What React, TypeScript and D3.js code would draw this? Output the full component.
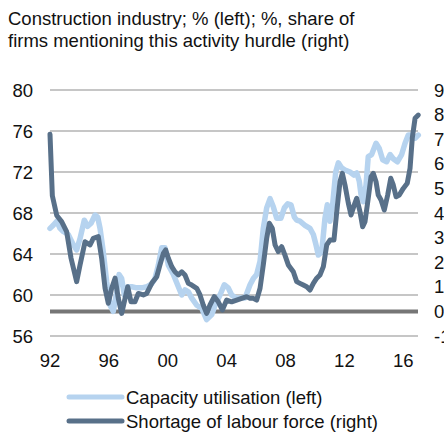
import { useMemo } from 'react';
import * as d3 from 'd3';

// capacity utilisation, construction (left axis, %)
const capYears = [
  1992.0, 1992.22, 1992.46, 1992.68, 1992.9, 1993.24, 1993.58, 1993.81, 1994.04, 1994.33,
  1994.56, 1994.79, 1995.06, 1995.24, 1995.4, 1995.62, 1995.85, 1996.08, 1996.3, 1996.53,
  1996.69, 1996.87, 1997.05, 1997.28, 1997.55, 1997.89, 1998.23, 1998.57, 1998.91, 1999.13,
  1999.36, 1999.59, 1999.81, 2000.04, 2000.38, 2000.72, 2000.95, 2001.17, 2001.4, 2001.63,
  2001.97, 2002.31, 2002.64, 2002.99, 2003.21, 2003.55, 2003.84, 2004.11, 2004.34, 2004.62,
  2004.91, 2005.25, 2005.59, 2005.81, 2006.04, 2006.27, 2006.49, 2006.72, 2006.95, 2007.17,
  2007.4, 2007.69, 2007.92, 2008.15, 2008.37, 2008.6, 2008.76, 2008.98, 2009.32, 2009.66,
  2009.89, 2010.07, 2010.23, 2010.46, 2010.68, 2010.84, 2011.02, 2011.2, 2011.41, 2011.59,
  2011.82, 2012.04, 2012.38, 2012.65, 2012.84, 2013.01, 2013.13, 2013.28, 2013.47, 2013.62,
  2013.85, 2014.15, 2014.37, 2014.6, 2014.87, 2015.1, 2015.32, 2015.6, 2015.89, 2016.12,
  2016.34, 2016.57, 2016.8, 2017.02,
];
const capValues = [
  66.5, 66.8, 67.2, 66.5, 66.2, 65.9, 64.9, 64.4, 65.5, 67.3,
  66.7, 67.0, 67.8, 67.6, 66.5, 64.2, 61.3, 59.0, 58.4, 60.3,
  62.0, 61.6, 60.0, 60.8, 60.8, 60.7, 60.7, 60.8, 61.1, 61.6,
  62.9, 64.6, 64.6, 62.9, 62.0, 60.8, 60.0, 60.5, 60.3, 59.7,
  59.0, 58.7, 57.6, 58.1, 59.0, 60.0, 61.0, 60.7, 60.0, 59.7,
  59.7, 59.7, 61.0, 61.6, 62.0, 63.3, 66.5, 68.5, 69.4, 68.6,
  67.5, 67.5, 68.5, 68.9, 68.8, 67.6, 67.3, 67.2, 66.8, 66.5,
  65.9, 64.9, 63.9, 64.2, 67.5, 68.8, 67.2, 68.8, 72.0, 72.9,
  72.4, 72.2, 72.0, 71.7, 71.9, 71.1, 69.8, 69.1, 70.7, 73.5,
  73.7, 74.8, 74.3, 73.2, 73.0, 73.7, 73.3, 73.0, 73.7, 74.8,
  75.6, 75.6, 75.3, 75.6,
];

// shortage of labour force, share of firms (right axis, %)
const labYears = [
  1992.0, 1992.16, 1992.46, 1992.79, 1993.13, 1993.43, 1993.81, 1994.04, 1994.38, 1994.72,
  1994.94, 1995.28, 1995.51, 1995.74, 1995.96, 1996.19, 1996.42, 1996.64, 1996.87, 1997.1,
  1997.28, 1997.5, 1997.77, 1998.0, 1998.34, 1998.57, 1998.91, 1999.25, 1999.47, 1999.7,
  1999.86, 2000.04, 2000.27, 2000.49, 2000.72, 2000.95, 2001.17, 2001.4, 2001.63, 2001.97,
  2002.19, 2002.41, 2002.64, 2002.87, 2003.16, 2003.43, 2003.71, 2004.0, 2004.34, 2004.68,
  2005.02, 2005.36, 2005.59, 2005.81, 2006.04, 2006.27, 2006.49, 2006.72, 2006.9, 2007.1,
  2007.29, 2007.51, 2007.74, 2007.96, 2008.19, 2008.53, 2008.76, 2008.98, 2009.21, 2009.44,
  2009.66, 2009.89, 2010.12, 2010.34, 2010.57, 2010.8, 2011.02, 2011.29, 2011.48, 2011.7,
  2011.86, 2012.04, 2012.27, 2012.45, 2012.67, 2012.84, 2013.06, 2013.24, 2013.4, 2013.62,
  2013.81, 2013.96, 2014.15, 2014.3, 2014.49, 2014.71, 2014.94, 2015.15, 2015.32, 2015.51,
  2015.73, 2016.0, 2016.27, 2016.46, 2016.61, 2016.8, 2017.02,
];
const labValues = [
  7.2, 4.7, 3.9, 3.65, 3.24, 2.16, 1.21, 1.89, 2.83, 2.7,
  2.97, 3.04, 2.16, 0.94, 0.33, 0.94, 1.35, 0.53, -0.08, 0.53,
  1.0, 0.39, 0.39, 0.73, 0.67, 0.73, 1.14, 1.41, 1.89, 2.36,
  2.5, 2.16, 1.82, 1.61, 1.48, 1.61, 1.48, 1.14, 1.07, 0.94,
  0.67, 0.26, -0.08, 0.26, 0.6, 0.39, 0.06, 0.46, 0.39, 0.46,
  0.53, 0.6, 0.53, 0.53, 0.46, 0.94, 1.89, 2.97, 3.58, 3.38,
  2.7, 2.43, 2.63, 2.29, 1.89, 1.61, 1.21, 1.14, 1.07, 1.0,
  0.87, 1.14, 1.35, 1.48, 1.82, 2.7, 2.9, 2.9, 4.05, 5.27,
  5.61, 5.14, 4.39, 3.92, 4.33, 4.6, 4.05, 3.44, 3.65, 4.6,
  5.48, 5.61, 5.27, 4.73, 4.53, 4.12, 4.73, 5.41, 5.14, 4.66,
  4.73, 5.0, 5.21, 5.82, 7.04, 7.85, 7.98,
];

const leftTicks = [80, 76, 72, 68, 64, 60, 56];
const rightTicks = [9, 8, 7, 6, 5, 4, 3, 2, 1, 0, -1];
const yearTicks = [1992, 1996, 2000, 2004, 2008, 2012, 2016];
const titleLines = [
  'Construction industry; % (left); %, share of',
  'firms mentioning this activity hurdle (right)',
];
const legendItems = [
  { label: 'Capacity utilisation (left)', color: '#b6d3ef' },
  { label: 'Shortage of labour force (right)', color: '#587089' },
];

const W = 444;
const H = 432;
const PLOT = { left: 50, right: 418, top: 90, bottom: 336 };
const FONT = 'Liberation Sans, Arial, sans-serif';
const FS = 18.5;

type Pt = { t: number; v: number };

export default function App() {
  const x = useMemo(() => d3.scaleLinear().domain([1992, 2017]).range([PLOT.left, PLOT.right]), []);
  const yL = useMemo(() => d3.scaleLinear().domain([56, 80]).range([PLOT.bottom, PLOT.top]), []);
  const yR = useMemo(() => d3.scaleLinear().domain([-1, 9]).range([PLOT.bottom, PLOT.top]), []);

  const cap: Pt[] = capYears.map((t, i) => ({ t, v: capValues[i] }));
  const lab: Pt[] = labYears.map((t, i) => ({ t, v: labValues[i] }));

  const capPath = d3.line<Pt>().x((d) => x(d.t)).y((d) => yL(d.v))(cap) || '';
  const labPath = d3.line<Pt>().x((d) => x(d.t)).y((d) => yR(d.v))(lab) || '';

  return (
    <svg width={W} height={H} style={{ position: 'absolute', left: 0, top: 0 }} fontFamily={FONT}>
      <rect width={W} height={H} fill="#fff" />
      {titleLines.map((t, i) => (
        <text key={t} x={8} y={25 + i * 22} fontSize={FS} fill="#111">{t}</text>
      ))}

      {leftTicks.map((v) => (
        <g key={v}>
          <line x1={PLOT.left} x2={PLOT.right} y1={yL(v)} y2={yL(v)} stroke="#b3b3b3" strokeWidth={1.5} />
          <text x={33} y={yL(v) + 6.5} textAnchor="end" fontSize={FS} fill="#111">{v}</text>
        </g>
      ))}
      {rightTicks.map((v) => (
        <text key={v} x={434} y={yR(v) + 6.5} fontSize={FS} fill="#111">{v}</text>
      ))}
      <line x1={PLOT.left} x2={PLOT.right} y1={yR(0)} y2={yR(0)} stroke="#767676" strokeWidth={4} />

      {yearTicks.map((yr) => (
        <text key={yr} x={x(yr)} y={367} textAnchor="middle" fontSize={FS} fill="#111">
          {String(yr).slice(2)}
        </text>
      ))}

      <path d={capPath} fill="none" stroke={legendItems[0].color} strokeWidth={5.5} strokeLinejoin="round" strokeLinecap="round" />
      <path d={labPath} fill="none" stroke={legendItems[1].color} strokeWidth={5} strokeLinejoin="round" strokeLinecap="round" />

      {legendItems.map((it, i) => (
        <g key={it.label} transform={`translate(0, ${397 + i * 24})`}>
          <line x1={69} x2={122} y1={0} y2={0} stroke={it.color} strokeWidth={5} strokeLinecap="round" />
          <text x={126} y={7} fontSize={FS} fill="#111">{it.label}</text>
        </g>
      ))}
    </svg>
  );
}
